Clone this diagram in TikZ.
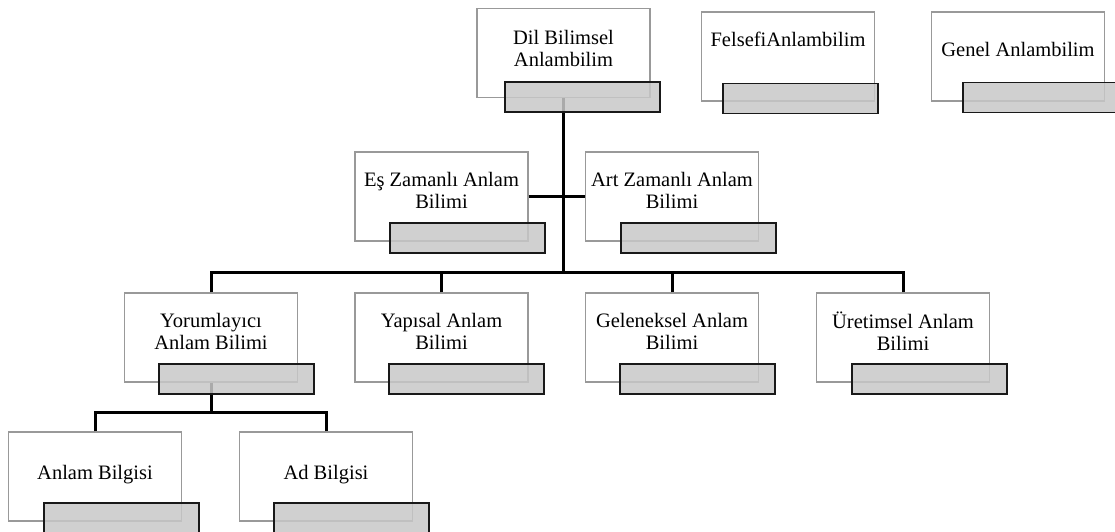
\documentclass[tikz,border=0pt]{standalone}
\usepackage{fontspec}
\setmainfont{Liberation Serif}
\usetikzlibrary{positioning, calc}

\begin{document}
\begin{tikzpicture}[x=1pt, y=-1pt,
    card/.style={draw=gray!80, line width=1.2pt, fill=white, minimum width=173pt, minimum height=89pt, inner sep=0pt},
    tab/.style={draw=black!90, line width=1.6pt, fill=gray!43, fill opacity=0.85, minimum width=155pt, minimum height=30pt, inner sep=0pt, anchor=north west},
    lbl/.style={align=center, font=\fontsize{20.5}{22}\selectfont, inner sep=0pt},
    link/.style={line width=3pt}]

    \useasboundingbox (0,0) rectangle (1115,531);

    % Top row
    \node[card] (dil) at (563.5, 53) {};
    \node[card] (fels) at (788, 56.5) {};
    \node[card] (genel) at (1018, 56.5) {};

    % Second row
    \node[card] (esz) at (441.5, 196.5) {};
    \node[card] (artz) at (672, 196.5) {};

    % Third row
    \node[card] (yorum) at (211, 337.5) {};
    \node[card] (yapi) at (441.5, 337.5) {};
    \node[card] (gelen) at (672, 337.5) {};
    \node[card] (uret) at (903, 337.5) {};

    % Bottom row
    \node[card] (anlam) at (95, 476.5) {};
    \node[card] (ad) at (326, 476.5) {};

    % Links
    \coordinate (j1) at (563.5, 272);
    \coordinate (j2) at (211, 412);
    \draw[link] (dil.south) -- (j1);
    \draw[link] (esz.east) -- (artz.west);
    \draw[link] (yorum.north) |- (j1);
    \draw[link] (uret.north) |- (j1);
    \draw[link] (yapi.north) -- (yapi.north |- j1);
    \draw[link] (gelen.north) -- (gelen.north |- j1);
    \draw[link] (yorum.south) -- (j2);
    \draw[link] (anlam.north) |- (j2);
    \draw[link] (ad.north) |- (j2);

    % Gray tabs
    \node[tab] (dilg) at ([xshift=28pt, yshift=17pt]dil.south west) {};
    \node[tab] (felsg) at ([xshift=21pt, yshift=19pt]fels.south west) {};
    \node[tab] (genelg) at ([xshift=31pt, yshift=20pt]genel.south west) {};
    \node[tab] (eszg) at ([xshift=35pt, yshift=19.5pt]esz.south west) {};
    \node[tab] (artzg) at ([xshift=35pt, yshift=19.5pt]artz.south west) {};
    \node[tab] (yorumg) at ([xshift=34pt, yshift=19.5pt]yorum.south west) {};
    \node[tab] (yapig) at ([xshift=34pt, yshift=19.5pt]yapi.south west) {};
    \node[tab] (geleng) at ([xshift=34pt, yshift=19.5pt]gelen.south west) {};
    \node[tab] (uretg) at ([xshift=35pt, yshift=19.5pt]uret.south west) {};
    \node[tab] (anlamg) at ([xshift=35pt, yshift=19.5pt]anlam.south west) {};
    \node[tab] (adg) at ([xshift=34pt, yshift=19.5pt]ad.south west) {};

    % Labels
    \node[lbl] (dilt) at ([yshift=5pt]dil.center) {Dil Bilimsel\\Anlambilim};
    \node[lbl] (felst) at ([yshift=17pt]fels.center) {FelsefiAnlambilim};
    \node[lbl] (genelt) at ([yshift=7pt]genel.center) {Genel Anlambilim};
    \node[lbl] (eszt) at ([yshift=6pt]esz.center) {Eş Zamanlı Anlam\\Bilimi};
    \node[lbl] (artzt) at ([yshift=6pt]artz.center) {Art Zamanlı Anlam\\Bilimi};
    \node[lbl] (yorumt) at ([yshift=6pt]yorum.center) {Yorumlayıcı\\Anlam Bilimi};
    \node[lbl] (yapit) at ([yshift=6pt]yapi.center) {Yapısal Anlam\\Bilimi};
    \node[lbl] (gelent) at ([yshift=6pt]gelen.center) {Geleneksel Anlam\\Bilimi};
    \node[lbl] (urett) at ([yshift=6pt]uret.center) {Üretimsel Anlam\\Bilimi};
    \node[lbl] (anlamt) at ([yshift=1.5pt]anlam.center) {Anlam Bilgisi};
    \node[lbl] (adt) at ([yshift=1.5pt]ad.center) {Ad Bilgisi};

\end{tikzpicture}
\end{document}
